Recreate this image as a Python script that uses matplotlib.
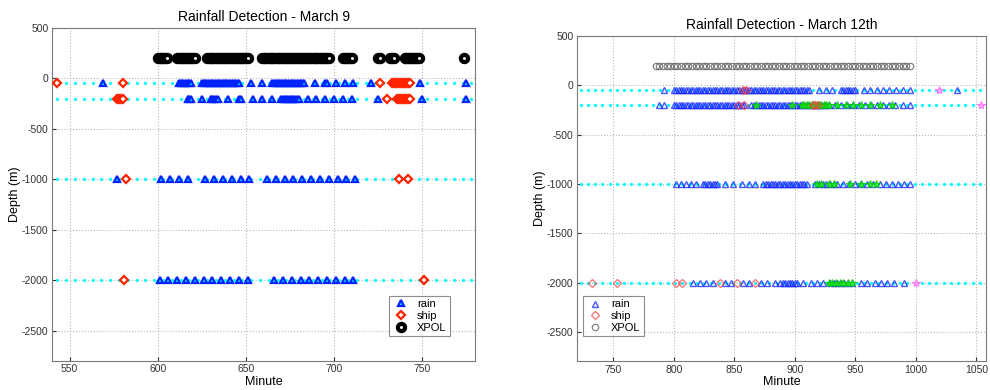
import matplotlib
matplotlib.use('Agg')
import matplotlib.pyplot as plt
from matplotlib.lines import Line2D

plt.rcParams['font.family'] = ['Liberation Sans', 'DejaVu Sans']
plt.rcParams['axes.unicode_minus'] = False

# ---------------- March 9 data (minutes) ----------------
sample_m9 = [543, 548, 553, 558, 563, 568, 573, 578, 583, 588, 593, 598, 603, 608, 613, 618,
             623, 628, 633, 638, 643, 648, 653, 658, 663, 668, 673, 678, 683, 688, 693, 698,
             703, 708, 713, 718, 723, 728, 733, 738, 743, 748, 753, 758, 763, 768, 773, 778]
depths = [-50, -200, -1000, -2000]
xpol_depth = 200

rain9_d50 = [569, 612, 613, 614, 615, 616, 617, 618, 619,
             625, 626, 627, 628, 629, 630, 631, 632, 633, 634, 635, 636, 637, 638, 639, 640,
             641, 642, 643, 644, 645, 646, 653, 659,
             665, 666, 667, 668, 669, 670, 671, 672, 673, 674, 675, 676, 677, 678, 679, 680,
             681, 682, 683, 689, 695, 696, 701, 706, 711, 721, 749, 775]
rain9_d200 = [617, 618, 619, 625, 630, 631, 632, 633, 634, 640, 646, 647, 654, 659, 665,
              670, 671, 672, 673, 674, 675, 676, 677, 678, 679, 680, 685, 690, 695, 700,
              705, 710, 725, 750, 775]
rain9_d1000 = [577, 602, 607, 612, 617, 627, 632, 637, 642, 647, 652, 662, 667, 672, 677,
               682, 687, 692, 697, 702, 707, 712]
rain9_d2000 = [601, 606, 611, 616, 621, 626, 631, 636, 641, 646, 651, 666, 671, 676, 681,
               686, 691, 696, 701, 706, 711]
ship9_d50 = [543, 580, 726, 733, 734, 735, 736, 737, 738, 739, 740, 741, 742, 743]
ship9_d200 = [577, 578, 579, 580, 730, 736, 737, 738, 739, 740, 741, 742, 743]
ship9_d1000 = [582, 737, 742]
ship9_d2000 = [581, 751]
xpol9 = [600, 601, 602, 603, 604, 605, 611, 612, 613, 614, 615, 616, 617, 618, 619, 620, 621,
         628, 629, 630, 631, 632, 633, 634, 635, 636, 637, 638, 639, 640, 641, 642, 643, 644,
         645, 646, 647, 648, 649, 650, 651,
         659, 660, 661, 662, 663, 664, 665, 666, 667, 668, 669, 670, 671, 672, 673, 674, 675,
         676, 677, 678, 679, 680, 681, 682, 683, 684, 685, 686, 687, 688, 689, 690, 691, 692,
         693, 694, 695, 696, 697, 705, 706, 707, 708, 709, 710, 725, 726, 732, 733, 734,
         740, 741, 742, 743, 744, 745, 746, 747, 748, 774]

# ---------------- March 12 data (minutes) ----------------
sample_m12 = [723, 729, 735, 741, 747, 753, 759, 765, 771, 777, 783, 789, 795, 801, 807, 813,
              819, 825, 831, 837, 843, 849, 855, 861, 867, 873, 879, 885, 891, 897, 903, 909,
              915, 921, 927, 933, 939, 945, 951, 957, 963, 969, 975, 981, 987, 993, 999, 1005,
              1011, 1017, 1023, 1029, 1035, 1041, 1047, 1053]
xpol12 = [785, 788, 791, 794, 797, 800, 803, 806, 809, 812, 815, 818, 821, 824, 827, 830, 833,
          836, 839, 842, 845, 848, 851, 854, 857, 860, 863, 866, 869, 872, 875, 878, 881, 884,
          887, 890, 893, 896, 899, 902, 905, 908, 911, 914, 917, 920, 923, 926, 929, 932, 935,
          938, 941, 944, 947, 950, 953, 956, 959, 962, 965, 968, 971, 974, 977, 980, 983, 986,
          989, 992, 995]
rain12_d50 = [792, 800, 802, 804, 806, 808, 810, 812, 814, 816, 818, 820, 822, 824, 826, 828,
              830, 832, 834, 836, 838, 840, 842, 844, 846, 848, 850, 852, 854, 856, 858, 860,
              862, 864, 866, 868, 870, 872, 874, 876, 878, 880, 882, 884, 886, 888, 890, 892,
              894, 896, 898, 900, 902, 904, 906, 908, 910, 912, 920, 926, 931, 938, 940, 942,
              944, 946, 948, 950, 957, 962, 968, 973, 978, 984, 989, 995, 1034]
rain12_d200 = [788, 792, 800, 802, 804, 806, 808, 810, 812, 814, 816, 818, 820, 822, 824, 826,
               828, 830, 832, 834, 836, 838, 840, 842, 844, 846, 848, 850, 852, 854, 856, 858,
               864, 866, 868, 870, 872, 874, 876, 878, 880, 882, 884, 886, 888, 890, 892, 894,
               896, 898, 900, 902, 904, 906, 908, 910, 912, 914, 916, 918, 920, 922, 924, 926,
               928, 933, 938, 943, 948, 953, 958, 963, 968, 973, 978, 983, 989, 995]
rain12_d1000 = [802, 806, 810, 814, 818, 824, 826, 828, 830, 832, 834, 836, 842, 849, 856, 862,
                867, 874, 876, 878, 880, 882, 884, 886, 888, 890, 892, 894, 896, 898, 900, 902,
                904, 906, 908, 910, 917, 920, 923, 926, 929, 932, 935, 940, 945, 950, 955, 960,
                965, 970, 975, 980, 985, 990, 995]
rain12_d2000 = [816, 822, 827, 832, 842, 847, 857, 862, 872, 877, 884, 888, 890, 892, 894, 896,
                898, 900, 902, 907, 913, 918, 923, 929, 932, 935, 938, 941, 944, 947, 955, 960,
                966, 971, 976, 982, 990]
ship12_d50 = [857, 860]
ship12_d200 = [853, 858, 915, 917, 919]
ship12_d2000 = [732, 753, 802, 807, 838, 852, 867]
green12_d200 = [868, 898, 906, 908, 910, 912, 914, 916, 918, 920, 922, 924, 926, 928,
                935, 942, 948, 955, 962, 970, 980]
green12_d1000 = [918, 922, 928, 932, 946, 955, 962, 967]
green12_d2000 = [928, 931, 934, 937, 940, 944, 947]
pink12_x = [1019, 1054, 1000]
pink12_depth = [-50, -200, -2000]

# ---------------- figure ----------------
fig = plt.figure(figsize=(9.9, 3.9), dpi=100)
ax1 = fig.add_axes([0.05253, 0.07436, 0.42727, 0.85385])
ax2 = fig.add_axes([0.58283, 0.07308, 0.41313, 0.83462])

def style_axes(ax, xticks, xlim, title):
    ax.set_xlim(*xlim)
    ax.set_ylim(-2800, 500)
    ax.set_xticks(xticks)
    ax.set_yticks([-2500, -2000, -1500, -1000, -500, 0, 500])
    ax.grid(True, linestyle=':', color='#b8b8b8', linewidth=0.8)
    ax.set_axisbelow(True)
    ax.tick_params(direction='in', length=3, labelsize=7.5, pad=2.5, colors='#333333')
    for s in ax.spines.values():
        s.set_color('#7a7a7a')
    ax.set_xlabel('Minute', fontsize=9, labelpad=1)
    ax.set_ylabel('Depth (m)', fontsize=9, labelpad=1)
    ax.set_title(title, fontsize=10, pad=5)

def row(ax, xs, depth, **kw):
    ax.plot(xs, [depth] * len(xs), linestyle='none', **kw)

# ----- March 9 -----
rain_kw9 = dict(marker='^', color='#0022ff', markerfacecolor='#00e5ff', markersize=5, markeredgewidth=1.6)
ship_kw9 = dict(marker='D', color='#ff2200', markerfacecolor='white', markersize=4, markeredgewidth=1.6)
xpol_kw9 = dict(marker='o', color='black', markerfacecolor='white', markersize=5.2, markeredgewidth=3.0)

for d in depths:
    row(ax1, sample_m9, d, marker='.', color='#00ffff', markersize=2.6, zorder=2)
for d, xs in zip(depths, [rain9_d50, rain9_d200, rain9_d1000, rain9_d2000]):
    row(ax1, xs, d, zorder=3, **rain_kw9)
for d, xs in zip(depths, [ship9_d50, ship9_d200, ship9_d1000, ship9_d2000]):
    row(ax1, xs, d, zorder=4, **ship_kw9)
row(ax1, xpol9, xpol_depth, zorder=3, **xpol_kw9)

style_axes(ax1, [550, 600, 650, 700, 750], (540, 780), 'Rainfall Detection - March 9')
h9 = [Line2D([], [], linestyle='none', **rain_kw9),
      Line2D([], [], linestyle='none', **ship_kw9),
      Line2D([], [], linestyle='none', **xpol_kw9)]
leg1 = ax1.legend(h9, ['rain', 'ship', 'XPOL'], loc='lower left', bbox_to_anchor=(0.797, 0.075),
                  fontsize=8, frameon=True, fancybox=False, borderpad=0.3, labelspacing=0.15,
                  handletextpad=0.6, handlelength=1.6, borderaxespad=0)
leg1.get_frame().set_edgecolor('#707070')
leg1.get_frame().set_linewidth(0.8)

# ----- March 12 -----
rain_kw12 = dict(marker='^', color='#1a2cff', markerfacecolor='none', markersize=4.8,
                 markeredgewidth=1.0, alpha=0.8)
ship_kw12 = dict(marker='D', color='#ff4040', markerfacecolor='none', markersize=4,
                 markeredgewidth=0.9, alpha=0.75)
xpol_kw12 = dict(marker='o', color='#5a5a5a', markerfacecolor='none', markersize=4.6,
                 markeredgewidth=0.9, alpha=0.75)
green_kw12 = dict(marker='*', color='#00cc00', markerfacecolor='#22ee22', markersize=6,
                  markeredgewidth=0.8, alpha=0.85)
pink_kw12 = dict(marker='*', color='#ff77ff', markerfacecolor='#ffaaff', markersize=6,
                 markeredgewidth=0.8)

for d in depths:
    row(ax2, sample_m12, d, marker='.', color='#00ffff', markersize=2.6, zorder=2)
for d, xs in zip(depths, [rain12_d50, rain12_d200, rain12_d1000, rain12_d2000]):
    row(ax2, xs, d, zorder=3, **rain_kw12)
for d, xs in zip([-200, -1000, -2000], [green12_d200, green12_d1000, green12_d2000]):
    row(ax2, xs, d, zorder=4, **green_kw12)
for d, xs in zip([-50, -200, -2000], [ship12_d50, ship12_d200, ship12_d2000]):
    row(ax2, xs, d, zorder=5, **ship_kw12)
row(ax2, xpol12, xpol_depth, zorder=3, **xpol_kw12)
ax2.plot(pink12_x, pink12_depth, linestyle='none', zorder=5, **pink_kw12)

style_axes(ax2, [750, 800, 850, 900, 950, 1000, 1050], (720, 1058), 'Rainfall Detection - March 12th')
h12 = [Line2D([], [], linestyle='none', **rain_kw12),
       Line2D([], [], linestyle='none', **ship_kw12),
       Line2D([], [], linestyle='none', **xpol_kw12)]
leg2 = ax2.legend(h12, ['rain', 'ship', 'XPOL'], loc='lower left', bbox_to_anchor=(0.015, 0.078),
                  fontsize=8, frameon=True, fancybox=False, borderpad=0.3, labelspacing=0.15,
                  handletextpad=0.6, handlelength=1.6, borderaxespad=0)
leg2.get_frame().set_edgecolor('#707070')
leg2.get_frame().set_linewidth(0.8)

fig.savefig('out.png', dpi=100)
